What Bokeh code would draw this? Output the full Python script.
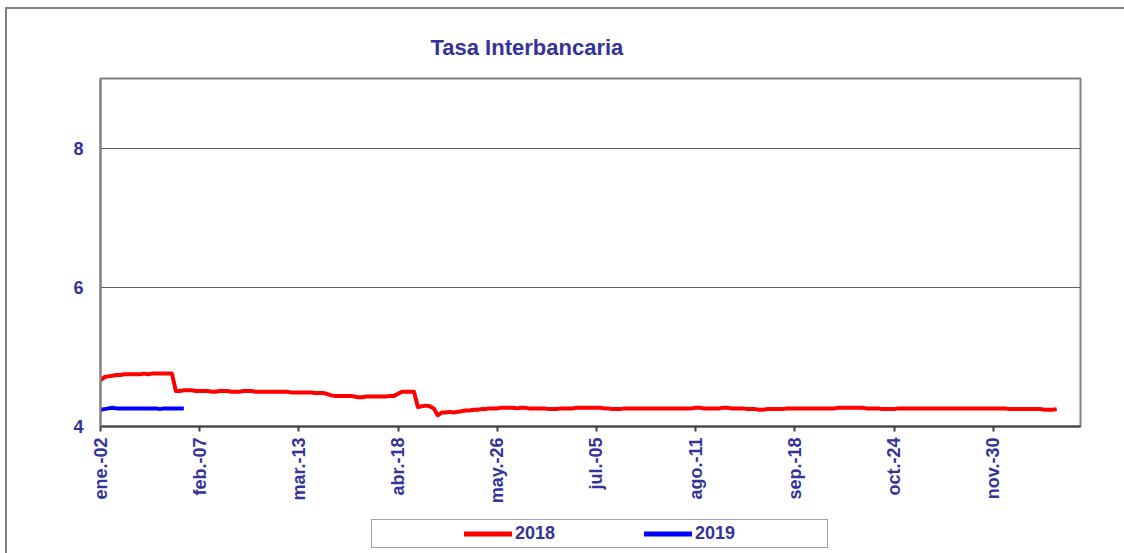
import math
from bokeh.plotting import figure
from bokeh.layouts import column
from bokeh.models import Range1d, FixedTicker, ColumnDataSource, Legend, LegendItem
from bokeh.embed import file_html
from bokeh.resources import INLINE

# ---------------- data ----------------
title_text = "Tasa Interbancaria"
tick_labels = ["ene.-02", "feb.-07", "mar.-13", "abr.-18", "may.-26",
               "jul.-05", "ago.-11", "sep.-18", "oct.-24", "nov.-30"]
tick_step = 25
y_ticks = [4, 6, 8]
series_names = ["2018", "2019"]

rate_2018 = [
    4.66, 4.71, 4.72, 4.73, 4.74, 4.74, 4.75, 4.75, 4.75, 4.75,
    4.75, 4.76, 4.75, 4.76, 4.76, 4.76, 4.76, 4.76, 4.76, 4.51,
    4.51, 4.52, 4.52, 4.52, 4.51, 4.51, 4.51, 4.51, 4.50, 4.50,
    4.51, 4.51, 4.51, 4.50, 4.50, 4.50, 4.51, 4.51, 4.51, 4.50,
    4.50, 4.50, 4.50, 4.50, 4.50, 4.50, 4.50, 4.50, 4.49, 4.49,
    4.49, 4.49, 4.49, 4.49, 4.48, 4.48, 4.48, 4.47, 4.45, 4.44,
    4.44, 4.44, 4.44, 4.44, 4.43, 4.42, 4.42, 4.43, 4.43, 4.43,
    4.43, 4.43, 4.43, 4.44, 4.44, 4.47, 4.50, 4.50, 4.50, 4.50,
    4.28, 4.29, 4.30, 4.29, 4.26, 4.16, 4.20, 4.20, 4.21, 4.20,
    4.21, 4.22, 4.23, 4.23, 4.24, 4.24, 4.25, 4.25, 4.26, 4.26,
    4.26, 4.27, 4.27, 4.27, 4.27, 4.26, 4.27, 4.27, 4.26, 4.26,
    4.26, 4.26, 4.26, 4.25, 4.25, 4.25, 4.26, 4.26, 4.26, 4.26,
    4.27, 4.27, 4.27, 4.27, 4.27, 4.27, 4.27, 4.26, 4.26, 4.25,
    4.25, 4.25, 4.26, 4.26, 4.26, 4.26, 4.26, 4.26, 4.26, 4.26,
    4.26, 4.26, 4.26, 4.26, 4.26, 4.26, 4.26, 4.26, 4.26, 4.26,
    4.27, 4.27, 4.26, 4.26, 4.26, 4.26, 4.26, 4.27, 4.27, 4.26,
    4.26, 4.26, 4.26, 4.25, 4.25, 4.25, 4.24, 4.24, 4.25, 4.25,
    4.25, 4.25, 4.25, 4.26, 4.26, 4.26, 4.26, 4.26, 4.26, 4.26,
    4.26, 4.26, 4.26, 4.26, 4.26, 4.26, 4.27, 4.27, 4.27, 4.27,
    4.27, 4.27, 4.27, 4.26, 4.26, 4.26, 4.26, 4.25, 4.25, 4.25,
    4.25, 4.26, 4.26, 4.26, 4.26, 4.26, 4.26, 4.26, 4.26, 4.26,
    4.26, 4.26, 4.26, 4.26, 4.26, 4.26, 4.26, 4.26, 4.26, 4.26,
    4.26, 4.26, 4.26, 4.26, 4.26, 4.26, 4.26, 4.26, 4.26, 4.25,
    4.25, 4.25, 4.25, 4.25, 4.25, 4.25, 4.25, 4.25, 4.24, 4.24,
    4.24, 4.25,
]

rate_2019 = [
    4.24, 4.25, 4.26, 4.27, 4.26, 4.26, 4.26, 4.26, 4.26, 4.26,
    4.26, 4.26, 4.26, 4.26, 4.26, 4.25, 4.26, 4.26, 4.26, 4.26,
    4.26, 4.26,
]

# ---------------- styles ----------------
NAVY = "#333399"
FONT = "Liberation Sans"
RED = "#FF0000"
BLUE = "#0000FF"
colors = [RED, BLUE]

src18 = ColumnDataSource(dict(x=list(range(len(rate_2018))), y=rate_2018))
src19 = ColumnDataSource(dict(x=list(range(len(rate_2019))), y=rate_2019))
sources = [src18, src19]

p = figure(
    frame_width=980, frame_height=348,
    min_border_left=100, min_border_right=44,
    min_border_top=78, min_border_bottom=90,
    x_range=Range1d(0, 247), y_range=Range1d(4, 9),
    output_backend="svg", toolbar_location=None,
    title=title_text,
)
p.title.text_font = FONT
p.title.text_font_size = "22px"
p.title.text_font_style = "bold"
p.title.text_color = NAVY
p.title.align = "left"
p.title.offset = 330
p.title.standoff = 37

for s, c in zip(sources, colors):
    p.line("x", "y", source=s, line_color=c, line_width=4, line_join="round")

# x axis
xt = [i * tick_step for i in range(len(tick_labels))]
p.xaxis.ticker = FixedTicker(ticks=xt)
p.xaxis.major_label_overrides = {t: lab for t, lab in zip(xt, tick_labels)}
p.xaxis.major_label_orientation = math.pi / 2
p.xaxis.major_label_text_font = FONT
p.xaxis.major_label_text_font_size = "18px"
p.xaxis.major_label_text_font_style = "bold"
p.xaxis.major_label_text_color = NAVY
p.xaxis.axis_line_color = "#404040"
p.xaxis.axis_line_width = 2
p.xaxis.major_tick_line_color = "#404040"
p.xaxis.major_tick_line_width = 2
p.xaxis.major_tick_out = 5
p.xaxis.major_tick_in = 0
p.xaxis.minor_tick_line_color = None
p.xaxis.major_label_standoff = 6

# y axis
p.yaxis.ticker = FixedTicker(ticks=y_ticks)
p.yaxis.major_label_text_font = FONT
p.yaxis.major_label_text_font_size = "18px"
p.yaxis.major_label_text_font_style = "bold"
p.yaxis.major_label_text_color = NAVY
p.yaxis.axis_line_color = "#808080"
p.yaxis.axis_line_width = 2
p.yaxis.major_tick_line_color = None
p.yaxis.minor_tick_line_color = None
p.yaxis.major_label_standoff = 11

p.xgrid.grid_line_color = None
p.ygrid.grid_line_color = "#606060"
p.ygrid.grid_line_width = 1
p.ygrid.ticker = FixedTicker(ticks=[6, 8])

p.outline_line_color = "#808080"
p.outline_line_width = 2
p.background_fill_color = "white"
p.border_fill_alpha = 0

# ---------------- legend strip (same frame alignment as the chart) ----------------
# the series are drawn here again only as legend sources; the y range keeps them out of view
lg = figure(
    frame_width=980, frame_height=37,
    min_border_left=100, min_border_right=44,
    min_border_top=0, min_border_bottom=0,
    x_range=Range1d(0, 247), y_range=Range1d(100, 101),
    x_axis_type=None, y_axis_type=None,
    output_backend="svg", toolbar_location=None,
)
lg.xgrid.grid_line_color = None
lg.ygrid.grid_line_color = None
lg.outline_line_color = None
lg.border_fill_alpha = 0
lg.background_fill_alpha = 0

legend_lines = [lg.line("x", "y", source=s, line_color=c, line_width=5, line_cap="round")
                for s, c in zip(sources, colors)]
r_pad = lg.line("x", "y", source=src19, line_alpha=0)
items = [
    LegendItem(label="", renderers=[r_pad]),
    LegendItem(label=series_names[0], renderers=[legend_lines[0]]),
    LegendItem(label="", renderers=[r_pad]),
    LegendItem(label=series_names[1], renderers=[legend_lines[1]]),
    LegendItem(label="", renderers=[r_pad]),
]
leg = Legend(
    items=items, location=(271, 5), orientation="horizontal",
    padding=3, glyph_width=48, glyph_height=19, label_height=19,
    label_width=38, label_standoff=3, spacing=0, margin=0,
    border_line_color="#3A4A6A", border_line_width=1,
    background_fill_color="white", background_fill_alpha=1,
    label_text_font=FONT, label_text_font_size="18px",
    label_text_font_style="bold", label_text_color=NAVY,
)
lg.add_layout(leg, "center")

layout = column(
    p, lg, spacing=0,
    styles={"background": "linear-gradient(#808080,#808080) 5px 7px / 2px 100% no-repeat, "
                          "linear-gradient(#808080,#808080) 5px 7px / 100% 2px no-repeat, white"},
)

open("out.html", "w").write(file_html(layout, INLINE))
